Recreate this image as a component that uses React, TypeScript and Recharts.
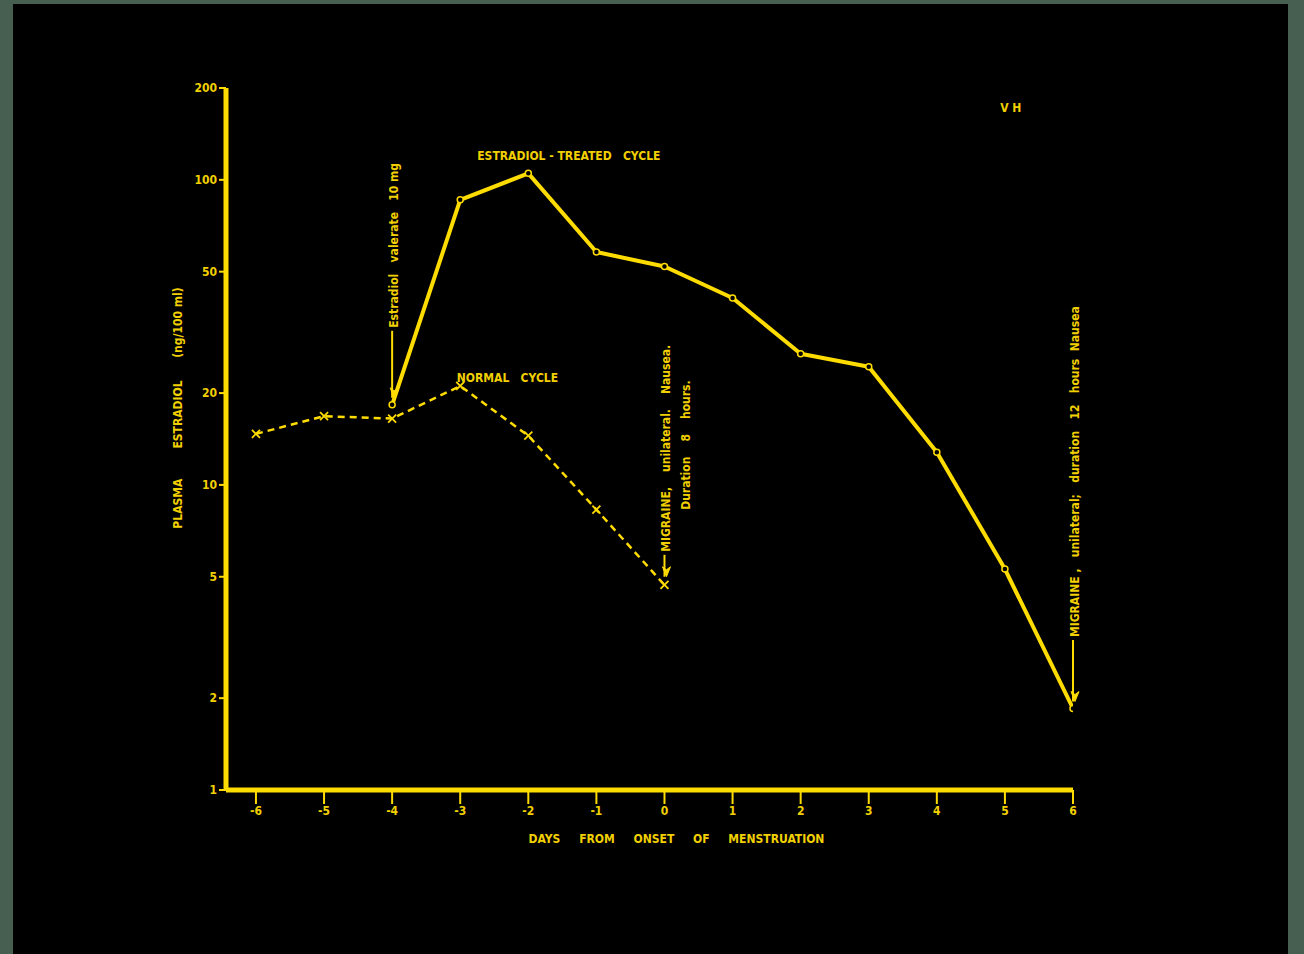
import React from "react";
import {
  LineChart,
  Line,
  XAxis,
  YAxis,
  ReferenceDot,
  ReferenceLine,
} from "recharts";

// ---- data ----
const dayTicks = [-6, -5, -4, -3, -2, -1, 0, 1, 2, 3, 4, 5, 6];
const yTicks = [1, 2, 5, 10, 20, 50, 100, 200];

const normalDays = [-6, -5, -4, -3, -2, -1, 0];
const normalValues = [14.7, 16.8, 16.5, 21.1, 14.5, 8.3, 4.7];

const treatedDays = [-4, -3, -2, -1, 0, 1, 2, 3, 4, 5, 6];
const treatedValues = [18.3, 86, 105, 58, 52, 41, 26.9, 24.4, 12.8, 5.3, 1.85];

const seriesLabels = [
  { day: -2.75, value: 120, text: "ESTRADIOL - TREATED   CYCLE" },
  { day: -3.05, value: 22.4, text: "NORMAL   CYCLE" },
  { day: 4.93, value: 172, text: "V H" },
];

// vertical annotations: text starts at `from` and reads upward; arrow from `from` to `tip`
const annotations = [
  { day: -4, from: 32, tip: 19.3, lines: ["Estradiol   valerate   10 mg"] },
  {
    day: 0,
    from: 5.9,
    tip: 5.0,
    lines: ["MIGRAINE,    unilateral.    Nausea.", "Duration    8    hours."],
  },
  {
    day: 6,
    from: 3.1,
    tip: 1.95,
    lines: ["MIGRAINE ,   unilateral;   duration   12   hours  Nausea"],
  },
];

const normalData = normalDays.map((d, i) => ({ day: d, value: normalValues[i] }));
const treatedData = treatedDays.map((d, i) => ({ day: d, value: treatedValues[i] }));

const YELLOW = "#ffdc00";
const TEXT = "#f2d000";
const FONT = "'Liberation Sans Narrow', 'DejaVu Sans Condensed', 'Liberation Sans', sans-serif";

const CrossDot = (props: any) => {
  const { cx, cy } = props;
  if (cx == null || cy == null) return null;
  const s = 4;
  return (
    <g>
      <line x1={cx - s} y1={cy - s} x2={cx + s} y2={cy + s} stroke={YELLOW} strokeWidth={1.8} />
      <line x1={cx - s} y1={cy + s} x2={cx + s} y2={cy - s} stroke={YELLOW} strokeWidth={1.8} />
    </g>
  );
};

const CircleDot = (props: any) => {
  const { cx, cy } = props;
  if (cx == null || cy == null) return null;
  return <circle cx={cx} cy={cy} r={3} fill="#000" stroke={YELLOW} strokeWidth={1.5} />;
};

const YLabel = (props: any) => {
  const vb = props.viewBox || {};
  const x = (vb.x || 0) + 178;
  const y = 408;
  return (
    <text
      x={x}
      y={y}
      transform={`rotate(-90, ${x}, ${y})`}
      textAnchor="middle"
      dominantBaseline="central"
      fill={TEXT}
      fontFamily={FONT}
      fontWeight="bold"
      fontSize={12}
      style={{ whiteSpace: "pre" }}
    >
      {"PLASMA        ESTRADIOL      (ng/100 ml)"}
    </text>
  );
};

const XLabel = (props: any) => {
  const vb = props.viewBox || {};
  const x = (vb.x || 0) + (vb.width || 0) / 2 + 27;
  const y = 843;
  return (
    <text
      x={x}
      y={y}
      textAnchor="middle"
      fill={TEXT}
      fontFamily={FONT}
      fontWeight="bold"
      fontSize={12}
      style={{ whiteSpace: "pre" }}
    >
      {"DAYS     FROM     ONSET     OF     MENSTRUATION"}
    </text>
  );
};

export default function App() {
  return (
    <div style={{ position: "absolute", left: 0, top: 0, width: 1304, height: 954, background: "#465f50" }}>
      <div style={{ position: "absolute", left: 13, top: 4, width: 1275, height: 950, background: "#000" }} />
      <div style={{ position: "absolute", left: 0, top: 0 }}>
        <LineChart
          width={1304}
          height={954}
          margin={{ top: 88, right: 231, bottom: 104, left: 0 }}
        >
          <XAxis
            type="number"
            dataKey="day"
            domain={[-6.44, 6]}
            ticks={dayTicks}
            allowDataOverflow
            height={60}
            axisLine={{ stroke: YELLOW, strokeWidth: 5 }}
            tickLine={{ stroke: YELLOW, strokeWidth: 2 }}
            tickSize={14}
            tick={{ fill: TEXT, fontSize: 12, fontWeight: "bold", fontFamily: FONT }}
            label={<XLabel />}
          />
          <YAxis
            type="number"
            dataKey="value"
            scale="log"
            domain={[1, 200]}
            ticks={yTicks}
            allowDataOverflow
            width={226}
            axisLine={{ stroke: YELLOW, strokeWidth: 5 }}
            tickLine={{ stroke: YELLOW, strokeWidth: 2 }}
            tickSize={7}
            tick={{ fill: TEXT, fontSize: 12, fontWeight: "bold", fontFamily: FONT }}
            label={<YLabel />}
          />
          <Line
            data={normalData}
            dataKey="value"
            stroke={YELLOW}
            strokeWidth={2.5}
            strokeDasharray="7 5"
            dot={<CrossDot />}
            isAnimationActive={false}
          />
          <Line
            data={treatedData}
            dataKey="value"
            stroke={YELLOW}
            strokeWidth={4}
            strokeLinejoin="round"
            dot={<CircleDot />}
            isAnimationActive={false}
          />
          {annotations.map((a, i) => (
            <ReferenceLine
              key={"al" + i}
              segment={[
                { x: a.day, y: a.from },
                { x: a.day, y: a.tip },
              ]}
              stroke={YELLOW}
              strokeWidth={2}
              ifOverflow="visible"
            />
          ))}
          {annotations.map((a, i) => (
            <ReferenceDot
              key={"ah" + i}
              x={a.day}
              y={a.tip}
              r={1}
              ifOverflow="visible"
              shape={(p: any) => (
                <path
                  d={`M${p.cx + 2},${p.cy} l-4,-10 l4,3 l4,-3 z`}
                  fill={YELLOW}
                  stroke={YELLOW}
                  strokeWidth={1}
                />
              )}
            />
          ))}
          {annotations.map((a, i) => (
            <ReferenceDot
              key={"at" + i}
              x={a.day}
              y={a.from}
              r={1}
              ifOverflow="visible"
              shape={(p: any) => (
                <g>
                  {a.lines.map((ln, j) => {
                    const x = p.cx + 2 + j * 20;
                    const y = p.cy - (j === 0 ? 3 : 45);
                    return (
                      <text
                        key={j}
                        x={x}
                        y={y}
                        transform={`rotate(-90, ${x}, ${y})`}
                        textAnchor="start"
                        dominantBaseline="central"
                        fill={TEXT}
                        fontFamily={FONT}
                        fontWeight="bold"
                        fontSize={12}
                        style={{ whiteSpace: "pre" }}
                      >
                        {ln}
                      </text>
                    );
                  })}
                </g>
              )}
            />
          ))}
          {seriesLabels.map((s, i) => (
            <ReferenceDot
              key={"sl" + i}
              x={s.day}
              y={s.value}
              r={1}
              ifOverflow="visible"
              shape={(p: any) => (
                <text
                  x={p.cx}
                  y={p.cy}
                  textAnchor="start"
                  dominantBaseline="central"
                  fill={TEXT}
                  fontFamily={FONT}
                  fontWeight="bold"
                  fontSize={12}
                  style={{ whiteSpace: "pre" }}
                >
                  {s.text}
                </text>
              )}
            />
          ))}
        </LineChart>
      </div>
    </div>
  );
}
